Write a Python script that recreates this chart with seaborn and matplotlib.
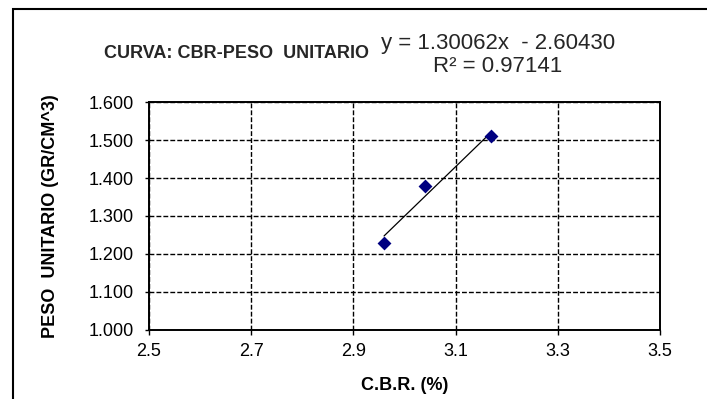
import matplotlib

matplotlib.use("Agg")

import matplotlib.pyplot as plt
import numpy as np
import pandas as pd
import seaborn as sns
from matplotlib.patches import Rectangle
from matplotlib.ticker import FormatStrFormatter

# values
cbr = [2.96, 3.04, 3.17]
peso = [1.23, 1.38, 1.51]
x_ticks = [2.5, 2.7, 2.9, 3.1, 3.3, 3.5]
y_ticks = [1.0, 1.1, 1.2, 1.3, 1.4, 1.5, 1.6]
title = "CURVA: CBR-PESO  UNITARIO"
equation = "y = 1.30062x  - 2.60430"
r_squared = "R² = 0.97141"

sns.set_theme(style="white")
plt.rcParams["font.family"] = ["Liberation Sans", "DejaVu Sans"]

data = pd.DataFrame({"cbr": cbr, "peso": peso})

W, H = 707, 399
fig = plt.figure(figsize=(W / 100, H / 100), dpi=100)
ax = fig.add_axes([149 / W, 1 - 330 / H, 511 / W, 228 / H])

sns.regplot(
    data=data,
    x="cbr",
    y="peso",
    ci=None,
    scatter=False,
    truncate=True,
    line_kws={"color": "black", "linewidth": 0.9, "zorder": 3},
    ax=ax,
)
sns.scatterplot(
    data=data,
    x="cbr",
    y="peso",
    marker="D",
    s=50,
    color="#000080",
    edgecolor="#000080",
    linewidth=0,
    zorder=4,
    ax=ax,
)

ax.set_xlim(2.5, 3.5)
ax.set_ylim(1.0, 1.6)
ax.set_xticks(x_ticks)
ax.set_yticks(y_ticks)
ax.xaxis.set_major_formatter(FormatStrFormatter("%.1f"))
ax.yaxis.set_major_formatter(FormatStrFormatter("%.3f"))
ax.grid(True, color="black", linewidth=1.0, linestyle=(0, (3.5, 1.5)))
ax.set_axisbelow(True)
for spine in ax.spines.values():
    spine.set_color("black")
    spine.set_linewidth(1.4)

ax.tick_params(axis="y", direction="out", length=3, width=1, pad=8,
               labelsize=13, colors="black", left=True)
ax.tick_params(axis="x", direction="out", length=3.5, width=1, pad=6,
               labelsize=13, colors="black", bottom=True)

ax.set_xlabel("C.B.R. (%)", fontsize=13, fontweight="bold", color="black", va="center")
ax.set_ylabel("PESO  UNITARIO (GR/CM^3)", fontsize=13, fontweight="bold", color="black", va="center")
ax.xaxis.set_label_coords(0.5, -(386 - 330) / 228)
ax.yaxis.set_label_coords(-(149 - 51) / 511, 0.5)

fig.text(104 / W, 1 - 54 / H, title, fontsize=13, fontweight="bold", ha="left", va="center")
fig.text(498 / W, 1 - 44 / H, equation, fontsize=16, ha="center", va="center")
fig.text(498 / W, 1 - 66 / H, r_squared, fontsize=16, ha="center", va="center")

fig.patches.append(Rectangle((13 / W, -0.2), 1.5, 1.2 - 9 / H, transform=fig.transFigure,
                             fill=False, edgecolor="black", linewidth=1.5, clip_on=False))

fig.savefig("out.png", dpi=100)
plt.close(fig)
